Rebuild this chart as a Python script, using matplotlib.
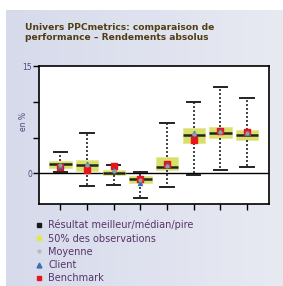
import matplotlib
matplotlib.use("Agg")
import matplotlib.pyplot as plt
import numpy as np
from matplotlib.lines import Line2D

# Valeurs (en %)
positions = [1, 2, 3, 4, 5, 6, 7, 8]
whisk_hi = [3.0, 5.6, 1.15, 0.2, 7.0, 10.0, 12.1, 10.5]
q3 = [1.7, 1.9, 0.5, -0.4, 2.3, 6.3, 6.5, 6.1]
median = [1.3, 1.1, 0.1, -0.8, 0.9, 5.4, 5.65, 5.4]
q1 = [0.8, 0.3, -0.2, -1.35, 0.4, 4.2, 4.9, 4.6]
whisk_lo = [0.2, -1.8, -1.6, -3.5, -1.95, -0.2, 0.4, 0.9]
means = [1.1, 1.2, 0.3, -0.9, 1.0, 5.5, 5.8, 5.6]
client = [1.0, 1.3, 0.5, -1.3, 1.1, 5.6, 5.9, 5.6]
bench = [0.9, 0.5, 1.0, -0.8, 1.25, 4.7, 5.9, 5.75]

title = "Univers PPCmetrics: comparaison de\nperformance \u2013 Rendements absolus"
legend_labels = ["R\u00e9sultat meilleur/m\u00e9dian/pire", "50% des observations",
                 "Moyenne", "Client", "Benchmark"]

title_col = "#4e3f14"
text_col = "#553468"
box_col = "#d6e06a"

fig = plt.figure(figsize=(2.83, 2.86), dpi=100)
fig.patch.set_facecolor("white")

# fond dégradé
bg = fig.add_axes([6 / 283, 0, 1 - 6 / 283, 1 - 10 / 286], zorder=-10)
grad = np.linspace(0, 1, 256).reshape(1, -1)
cmap = matplotlib.colors.LinearSegmentedColormap.from_list("bg", ["#d6daeb", "#e8eaf2"])
bg.imshow(grad, aspect="auto", cmap=cmap, extent=[0, 1, 0, 1])
bg.axis("off")

fig.text(25 / 283, 1 - 23 / 286, title, color=title_col, fontsize=6.6,
         fontweight="bold", va="top", ha="left", linespacing=1.1)

ax = fig.add_axes([39 / 283, 1 - 204 / 286, 230 / 283, 138 / 286])
ax.set_facecolor("white")

stats = []
for i in range(len(positions)):
    stats.append({"med": median[i], "q1": q1[i], "q3": q3[i],
                  "whislo": whisk_lo[i], "whishi": whisk_hi[i]})

ax.bxp(stats, positions=positions, widths=0.84, patch_artist=True,
       showfliers=False,
       boxprops=dict(facecolor=box_col, edgecolor="#e2e88e", linewidth=0.6),
       medianprops=dict(color="#222222", linewidth=1.8),
       whiskerprops=dict(color="#222222", linestyle=(0, (1.2, 1.2)), linewidth=1.2),
       capprops=dict(color="#222222", linewidth=1.4), capwidths=0.5)

ax.axhline(0, color="black", linewidth=1, zorder=1)
ax.scatter(positions, bench, marker="s", s=14, color="#e8141c", zorder=5)
ax.scatter(positions, client, marker="^", s=8, color="#3a70b0", zorder=6)
ax.scatter(positions, means, marker="o", s=4, color="#9a9aa6", zorder=7)

ax.set_xlim(0.2, 8.82)
ax.set_ylim(-4.3, 15)
ax.set_yticks([0, 5, 10, 15])
ax.set_yticklabels(["0", "", "", "15"])
ax.set_xticks(positions)
ax.set_xticklabels([""] * len(positions))
ax.tick_params(axis="both", direction="out", length=4, width=1, labelsize=5.5,
               colors="black", labelcolor="#4a4a7a", pad=1)
ax.set_ylabel("en %", fontsize=5.5, color="#4a4a7a", labelpad=2)
ax.yaxis.set_label_coords(-0.05, 0.6)
for s in ax.spines.values():
    s.set_linewidth(1.2)

handles = [
    Line2D([], [], marker="s", linestyle="", color="#1a1a1a", markersize=3.5),
    Line2D([], [], marker="s", linestyle="", color="#e0e84a", markersize=3.5),
    Line2D([], [], marker="o", linestyle="", color="#b8b8c2", markersize=2),
    Line2D([], [], marker="^", linestyle="", color="#3a70b0", markersize=3.5),
    Line2D([], [], marker="s", linestyle="", color="#e8141c", markersize=3.5),
]
fig.legend(handles, legend_labels, loc="upper left",
           bbox_to_anchor=(30 / 283, 1 - 215 / 286), frameon=False,
           fontsize=7, labelcolor=text_col, handlelength=0.8,
           handletextpad=0.6, labelspacing=0.33, borderpad=0)

fig.savefig("out.png", dpi=100, facecolor=fig.get_facecolor())
